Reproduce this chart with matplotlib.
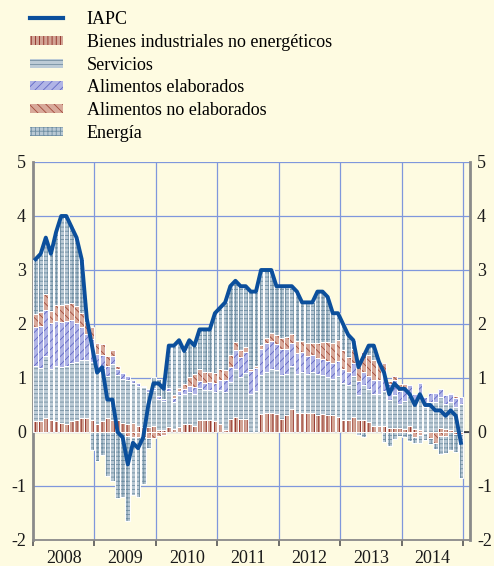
import numpy as np
import matplotlib
matplotlib.use("Agg")
import matplotlib.pyplot as plt
from matplotlib.patches import Patch
from matplotlib.lines import Line2D

plt.rcParams['font.family'] = ['Liberation Serif', 'DejaVu Serif']
plt.rcParams['axes.unicode_minus'] = False
plt.rcParams['hatch.linewidth'] = 0.6

# monthly data, Jan 2008 - Dec 2014 (contributions, pp)
years = ['2008', '2009', '2010', '2011', '2012', '2013', '2014']

iapc = [3.2, 3.3, 3.6, 3.3, 3.7, 4.0, 4.0, 3.8, 3.6, 3.2, 2.1, 1.6,
        1.1, 1.2, 0.6, 0.6, 0.0, -0.1, -0.6, -0.2, -0.3, -0.1, 0.5, 0.9,
        0.9, 0.8, 1.6, 1.6, 1.7, 1.5, 1.7, 1.6, 1.9, 1.9, 1.9, 2.2,
        2.3, 2.4, 2.7, 2.8, 2.7, 2.7, 2.6, 2.6, 3.0, 3.0, 3.0, 2.7,
        2.7, 2.7, 2.7, 2.6, 2.4, 2.4, 2.4, 2.6, 2.6, 2.5, 2.2, 2.2,
        2.0, 1.8, 1.7, 1.2, 1.4, 1.6, 1.6, 1.3, 1.1, 0.7, 0.9, 0.8,
        0.8, 0.7, 0.5, 0.7, 0.5, 0.5, 0.4, 0.4, 0.3, 0.4, 0.3, -0.2]

bienes_ind = [0.20, 0.20, 0.26, 0.23, 0.20, 0.17, 0.15, 0.20, 0.23, 0.26, 0.26, 0.23,
              0.15, 0.20, 0.26, 0.23, 0.23, 0.17, 0.15, 0.17, 0.12, 0.09, 0.09, 0.12,
              0.03, 0.03, 0.09, 0.06, 0.09, 0.15, 0.15, 0.12, 0.23, 0.23, 0.23, 0.20,
              0.14, 0.03, 0.25, 0.28, 0.25, 0.25, 0.00, 0.00, 0.34, 0.36, 0.36, 0.34,
              0.25, 0.31, 0.42, 0.36, 0.36, 0.36, 0.36, 0.31, 0.34, 0.31, 0.31, 0.28,
              0.22, 0.22, 0.27, 0.22, 0.22, 0.19, 0.11, 0.11, 0.11, 0.08, 0.08, 0.08,
              0.05, 0.11, 0.05, 0.03, 0.00, 0.00, 0.00, 0.08, 0.05, 0.03, -0.03, -0.03]

servicios = [1.03, 0.98, 1.15, 0.94, 1.03, 1.03, 1.07, 1.07, 1.07, 1.07, 1.07, 1.07,
             0.98, 0.98, 0.78, 1.03, 0.82, 0.82, 0.82, 0.74, 0.74, 0.74, 0.66, 0.66,
             0.59, 0.55, 0.67, 0.50, 0.59, 0.55, 0.59, 0.59, 0.59, 0.55, 0.55, 0.55,
             0.63, 0.71, 0.67, 0.88, 0.76, 0.84, 0.71, 0.76, 0.71, 0.76, 0.80, 0.80,
             0.80, 0.76, 0.80, 0.71, 0.76, 0.71, 0.76, 0.76, 0.71, 0.71, 0.67, 0.76,
             0.69, 0.65, 0.77, 0.47, 0.65, 0.60, 0.60, 0.60, 0.65, 0.52, 0.60, 0.43,
             0.52, 0.56, 0.47, 0.69, 0.47, 0.56, 0.56, 0.56, 0.47, 0.52, 0.47, 0.52]

alim_elab = [0.71, 0.79, 0.85, 0.84, 0.83, 0.84, 0.83, 0.80, 0.72, 0.62, 0.49, 0.42,
             0.31, 0.25, 0.19, 0.14, 0.11, 0.10, 0.07, 0.06, 0.05, 0.03, 0.05, 0.04,
             0.05, 0.04, 0.06, 0.07, 0.08, 0.10, 0.11, 0.13, 0.12, 0.13, 0.14, 0.16,
             0.19, 0.22, 0.29, 0.35, 0.38, 0.40, 0.42, 0.43, 0.48, 0.52, 0.52, 0.49,
             0.49, 0.47, 0.42, 0.40, 0.36, 0.34, 0.30, 0.30, 0.30, 0.30, 0.29, 0.28,
             0.25, 0.25, 0.24, 0.25, 0.24, 0.25, 0.25, 0.26, 0.29, 0.28, 0.28, 0.25,
             0.23, 0.20, 0.18, 0.18, 0.18, 0.17, 0.16, 0.16, 0.16, 0.16, 0.16, 0.13]

alim_no_elab = [0.24, 0.26, 0.29, 0.24, 0.30, 0.32, 0.32, 0.32, 0.31, 0.26, 0.21, 0.22,
                0.20, 0.20, 0.18, 0.11, 0.06, 0.01, -0.07, -0.10, -0.09, -0.10, -0.11, -0.12,
                -0.08, -0.06, 0.00, 0.05, 0.06, 0.08, 0.16, 0.23, 0.23, 0.21, 0.20, 0.19,
                0.20, 0.19, 0.21, 0.15, 0.13, 0.08, 0.03, 0.03, 0.08, 0.11, 0.15, 0.16,
                0.20, 0.22, 0.17, 0.21, 0.21, 0.24, 0.23, 0.27, 0.31, 0.34, 0.37, 0.39,
                0.36, 0.26, 0.26, 0.32, 0.38, 0.38, 0.38, 0.33, 0.23, 0.07, 0.07, 0.12,
                0.09, -0.02, -0.10, -0.05, -0.01, -0.11, -0.21, -0.08, -0.07, 0.02, 0.04, 0.00]

energia = [1.02, 1.07, 1.05, 1.05, 1.34, 1.64, 1.63, 1.41, 1.27, 0.99, 0.07, -0.34,
           -0.54, -0.43, -0.81, -0.91, -1.22, -1.20, -1.57, -1.07, -1.12, -0.86, -0.19, 0.20,
           0.31, 0.24, 0.78, 0.92, 0.88, 0.62, 0.69, 0.53, 0.73, 0.78, 0.78, 1.10,
           1.14, 1.25, 1.28, 1.14, 1.18, 1.13, 1.44, 1.38, 1.39, 1.25, 1.17, 0.91,
           0.96, 0.94, 0.89, 0.92, 0.71, 0.75, 0.75, 0.96, 0.94, 0.84, 0.56, 0.49,
           0.48, 0.42, 0.16, -0.06, -0.09, 0.18, 0.26, 0.00, -0.18, -0.25, -0.13, -0.08,
           -0.09, -0.15, -0.10, -0.15, -0.14, -0.12, -0.11, -0.32, -0.31, -0.33, -0.34, -0.82]

series = [
    ('Bienes industriales no energéticos', bienes_ind, '#d2a495', '#8e2a22', '||||'),
    ('Servicios', servicios, '#bccbd6', '#7690a2', '----'),
    ('Alimentos elaborados', alim_elab, '#b0b4e6', '#6268c4', '////'),
    ('Alimentos no elaborados', alim_no_elab, '#d8a99a', '#a24b3c', '\\\\\\\\'),
    ('Energía', energia, '#b8c8d4', '#6f8ea2', '++++'),
]

n = len(iapc)
x = np.arange(n)

fig = plt.figure(figsize=(4.94, 5.66), dpi=100)
fig.patch.set_facecolor('#fefbe1')
ax = fig.add_axes([33 / 494, 1 - 540 / 566, 437 / 494, 378 / 566])
ax.set_facecolor('#fefbe1')

pos = np.zeros(n)
neg = np.zeros(n)
handles = [Line2D([], [], color='#0b4f9c', lw=3)]
for label, vals, face, hc, hatch in series:
    v = np.array(vals)
    bottom = np.where(v >= 0, pos, neg)
    ax.bar(x, v, bottom=bottom, width=0.92, color=face, edgecolor=hc,
           hatch=hatch, linewidth=0, zorder=3)
    ax.bar(x, v, bottom=bottom, width=0.92, fill=False, edgecolor='white',
           linewidth=0.7, zorder=3.5)
    pos += np.where(v > 0, v, 0)
    neg += np.where(v < 0, v, 0)
    handles.append(Patch(facecolor=face, edgecolor=hc, hatch=hatch, linewidth=0))

ax.plot(x, iapc, color='#0b4f9c', lw=2.8, zorder=5, solid_joinstyle='round')
ax.axhline(0, color='#222222', lw=1.1, zorder=2.5)

# grid
for yv in range(-1, 6):
    ax.axhline(yv, color='#7f97dc', lw=0.9, zorder=1)
for k in range(1, 8):
    ax.axvline(-0.5 + 12 * k, color='#7f97dc', lw=0.9, zorder=1)

ax.set_xlim(-0.5, 84.77)
ax.set_ylim(-2, 5)
ax.set_yticks(range(-2, 6))
ax.set_yticklabels([str(v) for v in range(-2, 6)])
ax.tick_params(axis='y', length=0, pad=5, labelsize=13, labelright=True,
               labelcolor='#1a1a1a')

ax.set_xticks([-0.5 + 12 * k for k in range(8)])
ax.set_xticklabels([])
ax.set_xticks([5.5 + 12 * k for k in range(7)], minor=True)
ax.set_xticklabels(years, minor=True)
ax.tick_params(axis='x', which='major', direction='out', length=4, width=1.2,
               color='#555555')
ax.tick_params(axis='x', which='minor', length=0, pad=7, labelsize=13,
               labelcolor='#1a1a1a')

for side in ['left', 'right', 'bottom']:
    ax.spines[side].set_color('#8a8a8a')
ax.spines['left'].set_linewidth(2)
ax.spines['right'].set_linewidth(2)
ax.spines['bottom'].set_linewidth(1.3)
ax.spines['top'].set_visible(False)

labels = ['IAPC'] + [s[0] for s in series]
fig.legend(handles, labels, loc='upper left', bbox_to_anchor=(30 / 494, 1 - 11 / 566),
           frameon=False, fontsize=13, handlelength=1.85, handleheight=0.4,
           handletextpad=1.3, labelspacing=0.32, borderpad=0, borderaxespad=0)

fig.savefig('out.png', dpi=100, facecolor=fig.get_facecolor())
